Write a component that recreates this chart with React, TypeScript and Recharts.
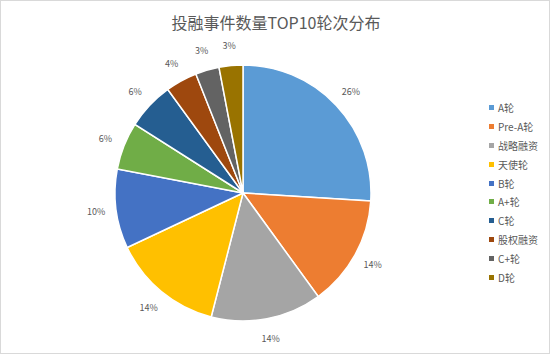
import React from "react";
import { PieChart, Pie, Cell, Legend } from "recharts";

const rounds = ["A轮", "Pre-A轮", "战略融资", "天使轮", "B轮", "A+轮", "C轮", "股权融资", "C+轮", "D轮"];
const shares = [26, 14, 14, 14, 10, 6, 6, 4, 3, 3];
const colors = ["#5b9bd5", "#ed7d31", "#a5a5a5", "#ffc000", "#4472c4", "#70ad47", "#255e91", "#9e480e", "#636363", "#997300"];

const data = rounds.map((name, i) => ({ name, value: shares[i] }));

const font = "'Noto Sans CJK SC', 'Noto Sans', sans-serif";
const RAD = Math.PI / 180;

const renderLabel = (props: any) => {
  const { cx, cy, midAngle, outerRadius, value } = props;
  const r = outerRadius + 20;
  const x = cx + r * Math.cos(-midAngle * RAD);
  const y = cy + r * Math.sin(-midAngle * RAD);
  return (
    <text x={x} y={y} textAnchor="middle" dominantBaseline="central" fontSize={9} fill="#595959" fontFamily={font}>
      {value}%
    </text>
  );
};

const renderLegend = () => (
  <div style={{ fontFamily: font, fontSize: 10, color: "#595959" }}>
    {rounds.map((name, i) => (
      <div key={name} style={{ height: 18.9, display: "flex", alignItems: "center" }}>
        <span style={{ width: 5, height: 5, background: colors[i], marginRight: 4, display: "inline-block" }} />
        {name}
      </div>
    ))}
  </div>
);

export default function App() {
  return (
    <div style={{ position: "absolute", left: 0, top: 0, width: 550, height: 354, background: "#fff", boxSizing: "border-box", border: "1px solid #d9d9d9" }}>
      <div style={{ position: "absolute", left: 0, top: 9, width: 550, textAlign: "center", fontFamily: font, fontSize: 16, color: "#595959" }}>
        投融事件数量TOP10轮次分布
      </div>
      <PieChart width={548} height={352} style={{ position: "absolute", left: 0, top: 0 }}>
        <Pie
          data={data}
          dataKey="value"
          nameKey="name"
          cx={237}
          cy={187}
          outerRadius={128}
          startAngle={90}
          endAngle={-270}
          stroke="#fff"
          strokeWidth={1.5}
          label={renderLabel}
          labelLine={false}
          isAnimationActive={false}
        >
          {data.map((d, i) => (
            <Cell key={d.name} fill={colors[i]} />
          ))}
        </Pie>
        <Legend
          layout="vertical"
          align="right"
          verticalAlign="top"
          content={renderLegend}
          wrapperStyle={{ left: 488, top: 97, width: 60 }}
        />
      </PieChart>
    </div>
  );
}
